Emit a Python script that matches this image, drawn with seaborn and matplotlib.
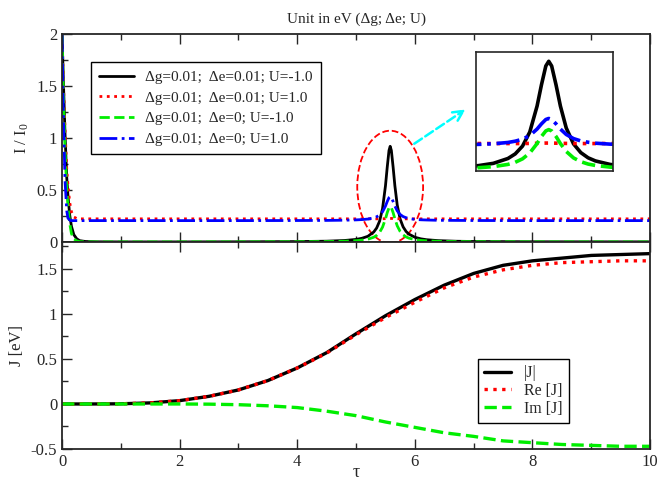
import matplotlib
matplotlib.use('Agg')
import matplotlib.pyplot as plt
import seaborn as sns
from matplotlib.patches import Ellipse
from matplotlib.ticker import MultipleLocator

# intensity vs tau (top panel)
tau_top = [0, 0.02, 0.05, 0.08, 0.1, 0.13, 0.16, 0.2, 0.25, 0.3, 0.4, 0.6, 1, 2, 3, 4,
           4.5, 4.8, 5.0, 5.1, 5.2, 5.3, 5.35, 5.4, 5.45, 5.5, 5.53, 5.56, 5.58, 5.6,
           5.63, 5.66, 5.7, 5.75, 5.8, 5.85, 5.9, 6.0, 6.1, 6.2, 6.4, 6.7, 7, 8, 9, 10]
I_black = [2.0, 1.6, 1.05, 0.62, 0.45, 0.26, 0.15, 0.07, 0.03, 0.012, 0.004, 0.001, 0, 0, 0.001, 0.0033,
           0.0071, 0.0135, 0.024, 0.035, 0.054, 0.095, 0.134, 0.20, 0.32, 0.54, 0.72, 0.88, 0.92, 0.88,
           0.72, 0.54, 0.354, 0.219, 0.145, 0.101, 0.0745, 0.045, 0.0297, 0.0211, 0.0122, 0.0066, 0.0041, 0.0014, 0.0007, 0.0005]
I_red = [2.0, 1.6, 1.1, 0.7, 0.55, 0.38, 0.29, 0.24, 0.225, 0.222, 0.222, 0.222, 0.222, 0.222, 0.222, 0.222,
         0.222, 0.222, 0.222, 0.222, 0.222, 0.222, 0.222, 0.222, 0.223, 0.224, 0.225, 0.226, 0.226, 0.226,
         0.225, 0.224, 0.223, 0.222, 0.222, 0.222, 0.222, 0.222, 0.222, 0.222, 0.222, 0.222, 0.222, 0.222, 0.222, 0.222]
I_green = [2.0, 1.5, 0.9, 0.5, 0.35, 0.18, 0.08, 0.03, 0.01, 0.003, 0.001, 0, 0, 0, 0.0006, 0.0016,
           0.0035, 0.0066, 0.0118, 0.017, 0.026, 0.045, 0.063, 0.092, 0.142, 0.222, 0.282, 0.329, 0.34, 0.329,
           0.282, 0.222, 0.155, 0.10, 0.068, 0.048, 0.036, 0.022, 0.0146, 0.0104, 0.006, 0.0032, 0.002, 0.0007, 0.0003, 0.0002]
I_blue = [2.0, 1.3, 0.6, 0.3, 0.23, 0.21, 0.205, 0.205, 0.205, 0.205, 0.205, 0.205, 0.205, 0.205, 0.205, 0.206,
          0.207, 0.209, 0.212, 0.215, 0.22, 0.231, 0.242, 0.259, 0.29, 0.345, 0.389, 0.426, 0.435, 0.426,
          0.389, 0.345, 0.299, 0.264, 0.244, 0.233, 0.225, 0.217, 0.213, 0.211, 0.208, 0.207, 0.206, 0.205, 0.205, 0.205]
top_labels = ['\u0394g=0.01;  \u0394e=0.01; U=-1.0',
              '\u0394g=0.01;  \u0394e=0.01; U=1.0',
              '\u0394g=0.01;  \u0394e=0; U=-1.0',
              '\u0394g=0.01;  \u0394e=0; U=1.0']

# J vs tau (bottom panel)
tau_bot = [0, 0.5, 1, 1.5, 2, 2.5, 3, 3.5, 4, 4.5, 5, 5.5, 6, 6.5, 7, 7.5, 8, 8.5, 9, 9.5, 10]
J_abs = [0, 0, 0.002, 0.012, 0.037, 0.085, 0.156, 0.26, 0.40, 0.57, 0.78, 0.98, 1.16, 1.32, 1.45, 1.54, 1.59, 1.62, 1.65, 1.66, 1.67]
J_re = [0, 0, 0.002, 0.012, 0.037, 0.085, 0.156, 0.26, 0.40, 0.565, 0.77, 0.96, 1.13, 1.29, 1.41, 1.49, 1.54, 1.57, 1.58, 1.59, 1.59]
J_im = [0, 0, 0, 0, 0, -0.002, -0.008, -0.02, -0.04, -0.08, -0.13, -0.2, -0.26, -0.32, -0.36, -0.41, -0.43, -0.45, -0.46, -0.47, -0.47]
bot_labels = ['|J|', 'Re [J]', 'Im [J]']

sns.set_style('ticks')
plt.rcParams['font.family'] = ['Liberation Serif', 'DejaVu Serif']
plt.rcParams['mathtext.fontset'] = 'custom'
plt.rcParams['mathtext.rm'] = 'Liberation Serif'
plt.rcParams['mathtext.it'] = 'Liberation Serif:italic'

fig = plt.figure(figsize=(6.6, 4.8), dpi=100)
ax1 = fig.add_axes([0.094, 0.496, 0.891, 0.433])
ax2 = fig.add_axes([0.094, 0.0646, 0.891, 0.4314])

styles = [('black', '-'), ('red', ':'), ('#00ee00', '--'), ('blue', '-.')]
curves = [I_black, I_red, I_green, I_blue]


def draw_top(ax, with_label, lw):
    for vals, (c, ls), lab in zip(curves, styles, top_labels):
        sns.lineplot(x=tau_top, y=vals, ax=ax, color=c, linestyle=ls, linewidth=lw,
                     label=lab if with_label else None, sort=False, estimator=None)


draw_top(ax1, True, 2)
ax1.set_xlim(0, 10)
ax1.set_ylim(0, 2)
ax1.set_ylabel(r'I / I$_\mathrm{0}$', fontsize=12)
ax1.set_title('Unit in eV (\u0394g; \u0394e; U)', fontsize=11, pad=8)
ax1.legend(loc='upper left', bbox_to_anchor=(0.049, 0.865), borderaxespad=0, frameon=True,
           fancybox=False, edgecolor='black', framealpha=1, fontsize=11, handlelength=2.3,
           handletextpad=0.7, borderpad=0.55, labelspacing=0.45)
ax1.get_legend().get_frame().set_linewidth(1)
ax1.tick_params(labelbottom=False)

ell = Ellipse((5.58, 0.53), 1.12, 1.08, fill=False, edgecolor='red', linestyle='--', linewidth=1.3)
ax1.add_patch(ell)
ax1.annotate('', xy=(6.90, 1.29), xytext=(5.95, 0.93),
             arrowprops=dict(arrowstyle='->', color='cyan', linestyle='--', linewidth=1.8,
                             mutation_scale=18))

axin = fig.add_axes([0.721, 0.644, 0.2076, 0.248])
draw_top(axin, False, 2.6)
axin.set_xlim(5.08, 6.02)
axin.set_ylim(-0.01, 1.0)
axin.set_xticks([])
axin.set_yticks([])
for s in axin.spines.values():
    s.set_linewidth(1.2)

for vals, (c, ls), lab in zip([J_abs, J_re, J_im], styles[:3], bot_labels):
    sns.lineplot(x=tau_bot, y=vals, ax=ax2, color=c, linestyle=ls, linewidth=2.4,
                 label=lab, sort=False, estimator=None)
ax2.set_xlim(0, 10)
ax2.set_ylim(-0.5, 1.8)
ax2.set_ylabel('J [eV]', fontsize=12)
ax2.set_xlabel('\u03c4', fontsize=13, labelpad=-4)
ax2.legend(loc='lower left', bbox_to_anchor=(0.707, 0.126), borderaxespad=0, frameon=True,
           fancybox=False, edgecolor='black', framealpha=1, fontsize=11.5, handlelength=1.7,
           handletextpad=0.8, borderpad=0.4, labelspacing=0.1)
ax2.get_legend().get_frame().set_linewidth(1)

for ax in (ax1, ax2):
    ax.xaxis.set_major_locator(MultipleLocator(2))
    ax.xaxis.set_minor_locator(MultipleLocator(1))
    ax.yaxis.set_major_locator(MultipleLocator(0.5))
    ax.yaxis.set_minor_locator(MultipleLocator(0.25))
    ax.tick_params(which='both', direction='in', top=True, bottom=True, left=True, right=False,
                   labelsize=12, width=1)
    ax.tick_params(which='major', length=7)
    ax.tick_params(which='minor', length=4)
    for s in ax.spines.values():
        s.set_visible(True)
        s.set_linewidth(1.3)
    ax.yaxis.set_major_formatter(matplotlib.ticker.FuncFormatter(lambda v, p: ('%g' % v)))
    ax.xaxis.set_major_formatter(matplotlib.ticker.FuncFormatter(lambda v, p: ('%g' % v)))

fig.savefig('out.png', dpi=100)
